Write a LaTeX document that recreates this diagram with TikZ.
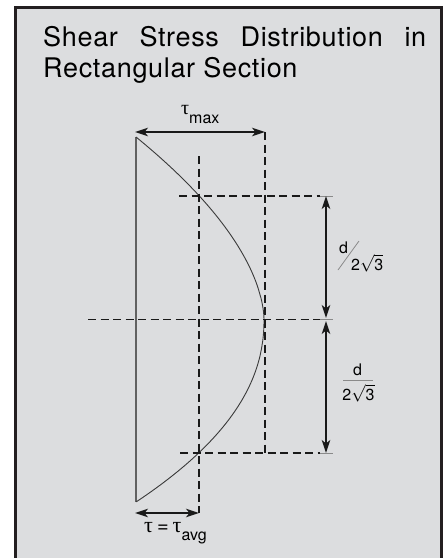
\documentclass[tikz,border=0pt]{standalone}
\usepackage{fontspec}
\setmainfont{TeX Gyre Heros}
\newfontfamily\titlefont[LetterSpace=2.5]{TeX Gyre Heros}
\newfontfamily\grk{Liberation Serif}
\usetikzlibrary{arrows.meta}
\definecolor{panel}{HTML}{DCDDDF}
\definecolor{framec}{HTML}{231F20}
\definecolor{curvec}{HTML}{3A3A3A}
\definecolor{tickc}{HTML}{8A8A8A}
\tikzset{
  dash line/.style={draw=black!90, line width=1.9pt, dash pattern=on 8pt off 4.5pt},
  tick line/.style={draw=tickc, line width=1pt},
  dim arrow/.style={draw=black!90, line width=1.7pt, {Stealth[length=13pt,width=8.5pt,inset=3.5pt]}-{Stealth[length=13pt,width=8.5pt,inset=3.5pt]}},
  curve line/.style={draw=curvec, line width=0.9pt},
  base line/.style={draw=curvec!80, line width=1.2pt},
  lab/.style={inner sep=0pt, font=\fontsize{16}{16}\selectfont},
  titlelab/.style={inner sep=0pt, font=\titlefont\fontsize{27}{31}\selectfont},
}
\begin{document}
\begin{tikzpicture}[x=1pt,y=-1pt]
\useasboundingbox (0,0) rectangle (445,558);
% panel
\fill[panel] (15.5,7.5) rectangle (441.5,575);
\draw[framec, line width=2.3pt] (15.5,575) -- (15.5,7.5) -- (441.5,7.5) -- (441.5,575);
% title
\node[titlelab, anchor=base west] (t1) at (43,46) {\hbox to 383pt{Shear\hfill Stress\hfill Distribution\hfill in}};
\node[titlelab, anchor=base west] (t2) at (43,77) {Rectangular Section};
% key points
\coordinate (T) at (136,137);
\coordinate (B) at (136,502);
\coordinate (mL) at (135,132);
\coordinate (mR) at (265,132);
\coordinate (mD) at (265,453);
\coordinate (aT) at (199,156);
\coordinate (aB) at (199,513);
\coordinate (aL) at (135,513);
\coordinate (uL) at (179,196);
\coordinate (uR) at (320,196);
\coordinate (uE) at (333,196);
\coordinate (cL) at (88,319.5);
\coordinate (cR) at (320,319.5);
\coordinate (cE) at (333,319.5);
\coordinate (lL) at (180,453);
\coordinate (lR) at (320,453);
\coordinate (lE) at (333,453);
\coordinate (dU) at (326,196);
\coordinate (dC1) at (326,318);
\coordinate (dC2) at (326,321);
\coordinate (dL) at (326,453);
% base line and curve
\draw[base line] (T) -- (B);
\draw[curve line] plot[domain=1:0.002, samples=70] ({136+128*(1-\x^1.75)}, {319.5-182.5*\x})
  -- plot[domain=0.002:1, samples=70] ({136+128*(1-\x^2.15)}, {319.5+182.5*\x});
% dashed lines
\draw[dash line] (mR) -- (mD);
\draw[dash line] (aT) -- (aB);
\draw[dash line] (uL) -- (uR);
\draw[dash line] (cL) -- (cR);
\draw[dash line] (lL) -- (lR);
\draw[tick line] (uR) -- (uE);
\draw[tick line] (cR) -- (cE);
\draw[tick line] (lR) -- (lE);
% dimension arrows
\draw[dim arrow] (mL) -- (mR);
\draw[dim arrow] (aL) -- (aB);
\draw[dim arrow] (dU) -- (dC1);
\draw[dim arrow] (dC2) -- (dL);
% labels
\node[lab, anchor=base west] (tmax) at (181,114) {{\grk\fontsize{20}{20}\selectfont τ}\raisebox{-9pt}{max}};
\node[lab, anchor=base west] (tavg) at (144,532) {{\grk\fontsize{22}{22}\selectfont τ}\kern4pt{\fontsize{20}{20}\selectfont =}\kern4pt{\grk\fontsize{22}{22}\selectfont τ}\raisebox{-8pt}{avg}};
\node[lab, anchor=base west] (d1) at (339,253) {d};
\node[lab, anchor=base west] (r1) at (351,270) {2$\sqrt{\mbox{3}}$};
\coordinate (s1) at (338,270);
\coordinate (s2) at (359,241);
\draw[tickc, line width=0.8pt] (s1) -- (s2);
\node[lab, anchor=base] (d2) at (357.5,375) {d};
\node[lab, anchor=base] (r2) at (358.5,400) {2$\sqrt{\mbox{3}}$};
\coordinate (b1) at (343,380.5);
\coordinate (b2) at (373,380.5);
\draw[tickc, line width=1.4pt] (b1) -- (b2);
\end{tikzpicture}
\end{document}
